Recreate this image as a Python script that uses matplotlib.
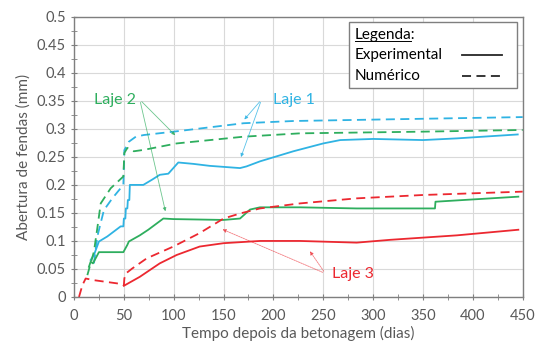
import matplotlib.pyplot as plt
from matplotlib.patches import Rectangle
from matplotlib.lines import Line2D

plt.rcParams['font.family'] = ['Lato', 'DejaVu Sans']

# Laje 1 (azul)
l1_exp_d = [16.7, 20, 25, 33.4, 46.8, 49.5, 50, 51.5, 52, 53.5, 54, 55.5, 56, 60, 69.5,
            78, 86, 94.6, 104.6, 119.7, 136, 166.5, 173, 186.5, 220, 250, 267, 300,
            350, 384, 445]
l1_exp_y = [0.066, 0.075, 0.099, 0.108, 0.126, 0.126, 0.14, 0.14, 0.158, 0.158, 0.173,
            0.173, 0.2, 0.2, 0.2, 0.209, 0.218, 0.22, 0.24, 0.2375, 0.234, 0.23,
            0.233, 0.242, 0.26, 0.274, 0.28, 0.282, 0.28, 0.283, 0.29]
l1_num_d = [20, 23.4, 30, 38.4, 49.5, 50.5, 55, 62, 70, 100, 170, 220, 317, 450]
l1_num_y = [0.06, 0.108, 0.155, 0.176, 0.2, 0.262, 0.277, 0.286, 0.289, 0.295,
            0.31, 0.314, 0.317, 0.321]

# Laje 2 (verde)
l2_exp_d = [15, 16.7, 19, 25, 49.5, 53.5, 55, 66, 74.5, 89.6, 99.6, 150, 166.5, 176.5,
            186.5, 226.7, 283.5, 362, 362.5, 445.6]
l2_exp_y = [0.054, 0.063, 0.06, 0.080, 0.080, 0.093, 0.099, 0.11, 0.12, 0.14, 0.139,
            0.1375, 0.14, 0.156, 0.16, 0.16, 0.158, 0.158, 0.17, 0.179]
l2_num_d = [13.4, 16.7, 20, 23.4, 26.8, 36.8, 49.5, 50.5, 53.5, 60, 70, 103, 170, 226.7,
            350, 450]
l2_num_y = [0.039, 0.06, 0.081, 0.123, 0.167, 0.194, 0.215, 0.257, 0.266, 0.26, 0.2625,
            0.274, 0.286, 0.292, 0.295, 0.298]

# Laje 3 (vermelho)
l3_exp_d = [50, 66, 86, 103, 126, 150, 186.5, 226.7, 283.5, 317, 384, 445.6]
l3_exp_y = [0.02, 0.036, 0.06, 0.075, 0.09, 0.096, 0.1, 0.1, 0.097, 0.102, 0.11, 0.12]
l3_num_d = [5, 8.4, 11.7, 20, 48.5, 50, 50.5, 52, 58.5, 73, 99.6, 126, 150, 166.5,
            186.5, 226.7, 283.5, 350, 450]
l3_num_y = [0.0, 0.021, 0.033, 0.03, 0.023, 0.021, 0.033, 0.042, 0.051, 0.069, 0.09,
            0.114, 0.14, 0.149, 0.158, 0.167, 0.176, 0.182, 0.188]

blue = '#2FB3E3'
green = '#2EAE5E'
red = '#EC2830'
gray = '#595959'

fig = plt.figure(figsize=(5.37, 3.49), dpi=100)
ax = fig.add_axes([0.1378, 0.149, 0.8356, 0.803])

dash = (5, 3)
ax.plot(l1_exp_d, l1_exp_y, color=blue, lw=1.3)
ax.plot(l1_num_d, l1_num_y, color=blue, lw=1.3, dashes=dash)
ax.plot(l2_exp_d, l2_exp_y, color=green, lw=1.3)
ax.plot(l2_num_d, l2_num_y, color=green, lw=1.3, dashes=dash)
ax.plot(l3_exp_d, l3_exp_y, color=red, lw=1.3)
ax.plot(l3_num_d, l3_num_y, color=red, lw=1.3, dashes=dash)

ax.set_xlim(0, 450)
ax.set_ylim(0, 0.5)
ax.set_xticks(range(0, 451, 50))
ax.set_xticks(range(0, 451, 25), minor=True)
ax.set_yticks([i * 0.05 for i in range(11)])
ax.set_yticks([i * 0.025 for i in range(21)], minor=True)
ax.set_yticklabels(['0', '0.05', '0.1', '0.15', '0.2', '0.25', '0.3', '0.35', '0.4',
                    '0.45', '0.5'])
ax.grid(True, which='major', color='#D9D9D9', lw=0.8)
ax.set_axisbelow(True)
ax.tick_params(which='both', direction='inout', length=5, color='#7F7F7F',
               labelcolor=gray, labelsize=10.5)
ax.tick_params(axis='x', pad=6)
for s in ax.spines.values():
    s.set_color('#7F7F7F')
    s.set_linewidth(1.0)

ax.set_xlabel('Tempo depois da betonagem (dias)', color=gray, fontsize=11, labelpad=2)
ax.set_ylabel('Abertura de fendas (mm)', color=gray, fontsize=11, labelpad=4)

# anotacoes
ap = dict(arrowstyle='-|>', lw=0.6, mutation_scale=5)
ax.text(41, 0.352, 'Laje 2', color=green, fontsize=11.5, ha='center', va='center')
for tgt in [(103.5, 0.285), (92.3, 0.148)]:
    ax.annotate('', xy=tgt, xytext=(66, 0.352),
                arrowprops=dict(color=green, alpha=0.7, **ap))
ax.text(221, 0.352, 'Laje 1', color=blue, fontsize=11.5, ha='center', va='center')
for tgt in [(169, 0.313), (166.5, 0.245)]:
    ax.annotate('', xy=tgt, xytext=(188, 0.352),
                arrowprops=dict(color=blue, alpha=0.8, **ap))
ax.text(280, 0.041, 'Laje 3', color=red, fontsize=11.5, ha='center', va='center')
for tgt in [(235, 0.0857), (146.4, 0.1226)]:
    ax.annotate('', xy=tgt, xytext=(252, 0.042),
                arrowprops=dict(color=red, alpha=0.6, linestyle=(0, (2, 1)), **ap))

# legenda
ax.add_patch(Rectangle((0.6136, 0.745), 0.373, 0.235, transform=ax.transAxes,
                       facecolor='white', edgecolor='#7F7F7F', lw=1.0, zorder=5))
ax.text(0.626, 0.935, 'Legenda:', transform=ax.transAxes, fontsize=11, color='black',
        va='center', zorder=6)
ax.add_line(Line2D([0.626, 0.752], [0.913, 0.913], transform=ax.transAxes,
                   color='black', lw=0.7, zorder=6))
ax.text(0.626, 0.864, 'Experimental', transform=ax.transAxes, fontsize=11,
        color='black', va='center', zorder=6)
ax.text(0.626, 0.787, 'Numérico', transform=ax.transAxes, fontsize=11,
        color='black', va='center', zorder=6)
ax.add_line(Line2D([0.864, 0.953], [0.864, 0.864], transform=ax.transAxes,
                   color='#262626', lw=1.3, zorder=6))
ax.add_line(Line2D([0.864, 0.953], [0.787, 0.787], transform=ax.transAxes,
                   color='#262626', lw=1.3, dashes=dash, zorder=6))

fig.savefig('out.png', dpi=100)
